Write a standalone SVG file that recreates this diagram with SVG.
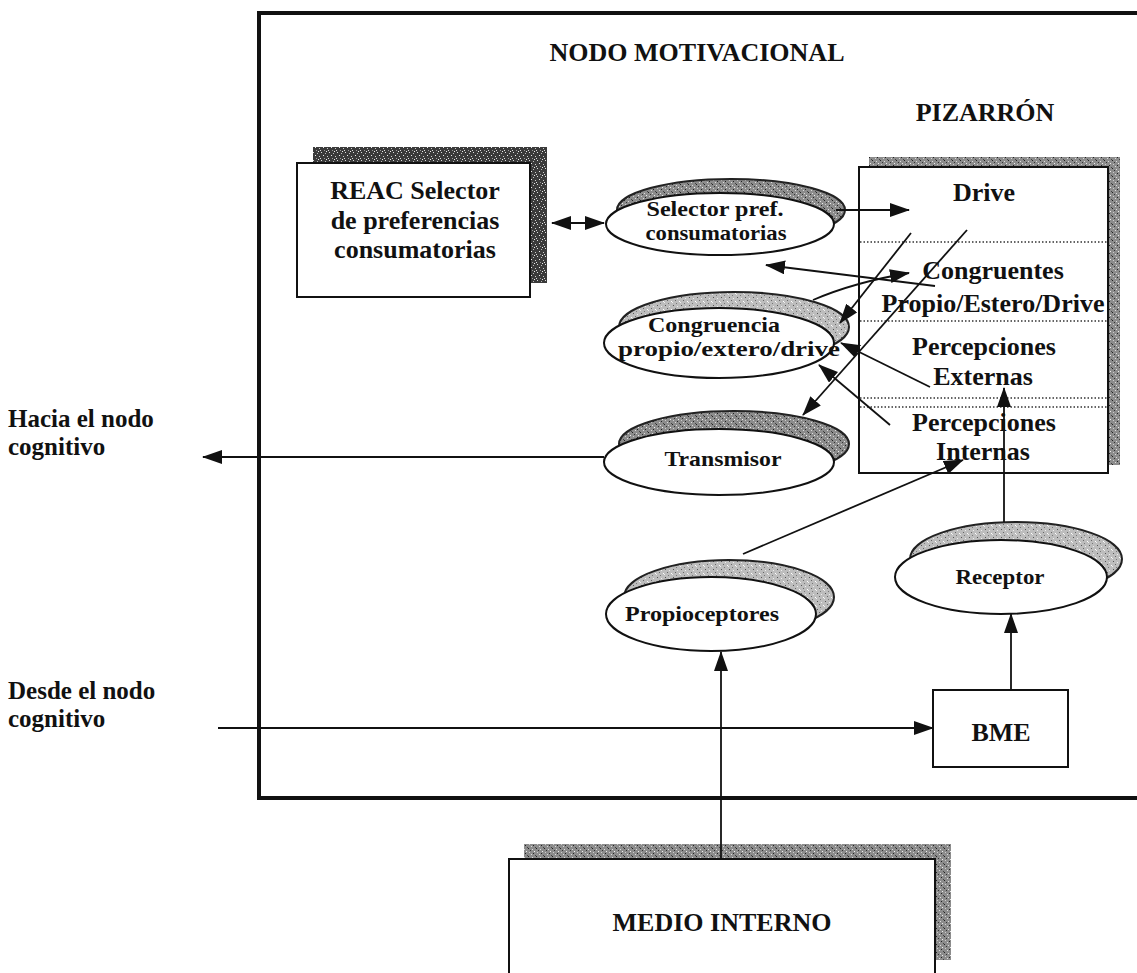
<svg xmlns="http://www.w3.org/2000/svg" width="1137" height="973" viewBox="0 0 1137 973">
  <style>
    text { font-family: "Liberation Serif", "Times New Roman", serif; font-weight: bold; fill: #111; }
    .big { font-size: 26px; }
    .side { font-size: 25px; }
    .oval { font-size: 22px; text-anchor: middle; }
    .mid { text-anchor: middle; }
    .box { fill: #fff; stroke: #111; stroke-width: 2; }
    .face { fill: #fff; stroke: #111; stroke-width: 2; }
    .back { stroke: #222; stroke-width: 2; }
    .arrow { fill: none; stroke: #111; stroke-width: 1.8; marker-end: url(#head); }
    .frame { fill: none; stroke: #111; stroke-width: 4; }
    .dots { stroke: #333; stroke-width: 1.5; stroke-dasharray: 1.5 2; }
  </style>
  <defs>
    <marker id="head" viewBox="0 0 20 14" refX="19" refY="7" markerWidth="20" markerHeight="14" markerUnits="userSpaceOnUse" orient="auto">
      <path d="M0,0 L20,7 L0,14 Z" fill="#111"/>
    </marker>
    <marker id="tail" viewBox="0 0 20 14" refX="1" refY="7" markerWidth="20" markerHeight="14" markerUnits="userSpaceOnUse" orient="auto">
      <path d="M20,0 L0,7 L20,14 Z" fill="#111"/>
    </marker>
    <!-- dithered shading used behind boxes and ovals -->
    <pattern id="grainDark" width="8" height="8" patternUnits="userSpaceOnUse">
      <rect width="8" height="8" fill="#3a3a3a"/>
      <rect x="1" y="0" width="1" height="1" fill="#ddd"/>
      <rect x="5" y="1" width="1" height="1" fill="#bbb"/>
      <rect x="3" y="3" width="1" height="1" fill="#eee"/>
      <rect x="7" y="4" width="1" height="1" fill="#ccc"/>
      <rect x="0" y="6" width="1" height="1" fill="#ddd"/>
      <rect x="4" y="6" width="1" height="1" fill="#999"/>
      <rect x="6" y="7" width="1" height="1" fill="#eee"/>
    </pattern>
    <pattern id="grainMid" width="8" height="8" patternUnits="userSpaceOnUse">
      <rect width="8" height="8" fill="#8c8c8c"/>
      <rect x="0" y="0" width="1" height="1" fill="#222"/>
      <rect x="4" y="1" width="1" height="1" fill="#ddd"/>
      <rect x="2" y="2" width="1" height="1" fill="#333"/>
      <rect x="6" y="3" width="1" height="1" fill="#eee"/>
      <rect x="1" y="4" width="1" height="1" fill="#ccc"/>
      <rect x="5" y="5" width="1" height="1" fill="#222"/>
      <rect x="3" y="6" width="1" height="1" fill="#ddd"/>
      <rect x="7" y="7" width="1" height="1" fill="#444"/>
    </pattern>
    <pattern id="grainLight" width="8" height="8" patternUnits="userSpaceOnUse">
      <rect width="8" height="8" fill="#bdbdbd"/>
      <rect x="1" y="1" width="1" height="1" fill="#555"/>
      <rect x="5" y="2" width="1" height="1" fill="#eee"/>
      <rect x="3" y="4" width="1" height="1" fill="#666"/>
      <rect x="7" y="5" width="1" height="1" fill="#fff"/>
      <rect x="0" y="6" width="1" height="1" fill="#eee"/>
      <rect x="4" y="7" width="1" height="1" fill="#777"/>
    </pattern>
  </defs>

  <rect width="1137" height="973" fill="#fff"/>

  <!-- motivational node frame (open to the right) -->
  <g id="nodo-motivacional">
    <path class="frame" d="M1140,13 L259,13 L259,798 L1140,798"/>
    <text class="big mid" x="697" y="61">NODO MOTIVACIONAL</text>
  </g>

  <!-- side labels -->
  <g id="hacia-nodo-cognitivo">
    <text class="side" x="8" y="427">Hacia el nodo</text>
    <text class="side" x="8" y="455">cognitivo</text>
  </g>
  <g id="desde-nodo-cognitivo">
    <text class="side" x="8" y="699">Desde el nodo</text>
    <text class="side" x="8" y="727">cognitivo</text>
  </g>

  <!-- REAC selector box -->
  <g id="reac">
    <rect x="313" y="147" width="234" height="136" fill="url(#grainDark)"/>
    <rect class="box" x="297" y="163" width="233" height="134"/>
    <text class="big mid" x="415" y="199">REAC Selector</text>
    <text class="big mid" x="415" y="229">de preferencias</text>
    <text class="big mid" x="415" y="258">consumatorias</text>
  </g>

  <!-- blackboard -->
  <g id="pizarron">
    <text class="big mid" x="985" y="121">PIZARRÓN</text>
    <rect x="869" y="157" width="251" height="308" fill="url(#grainMid)"/>
    <rect class="box" x="859" y="167" width="249" height="306"/>
    <line class="dots" x1="860" y1="242" x2="1107" y2="242"/>
    <line class="dots" x1="860" y1="321" x2="1107" y2="321"/>
    <line class="dots" x1="860" y1="398" x2="1107" y2="398"/>
    <line class="dots" x1="860" y1="407" x2="1107" y2="407"/>
    <text class="big mid" x="984" y="201">Drive</text>
    <text class="big mid" x="993" y="279">Congruentes</text>
    <text class="big mid" x="993" y="312">Propio/Estero/Drive</text>
    <text class="big mid" x="984" y="355">Percepciones</text>
    <text class="big mid" x="983" y="385">Externas</text>
    <text class="big mid" x="984" y="431">Percepciones</text>
    <text class="big mid" x="983" y="460">Internas</text>
  </g>

  <!-- ovals -->
  <g id="selector-pref">
    <ellipse class="back" cx="731" cy="210" rx="114" ry="31" fill="url(#grainMid)"/>
    <ellipse class="face" cx="720" cy="224" rx="114" ry="31"/>
    <text class="oval" x="715" y="216" textLength="137" lengthAdjust="spacingAndGlyphs">Selector pref.</text>
    <text class="oval" x="716" y="240" textLength="141" lengthAdjust="spacingAndGlyphs">consumatorias</text>
  </g>

  <g id="congruencia">
    <ellipse class="back" cx="734" cy="327" rx="115" ry="35" fill="url(#grainLight)"/>
    <ellipse class="face" cx="719" cy="343" rx="115" ry="35"/>
    <text class="oval" x="714" y="332" textLength="132" lengthAdjust="spacingAndGlyphs">Congruencia</text>
    <text class="oval" x="729" y="356" textLength="222" lengthAdjust="spacingAndGlyphs">propio/extero/drive</text>
  </g>

  <g id="transmisor">
    <ellipse class="back" cx="734" cy="444" rx="115" ry="33" fill="url(#grainMid)"/>
    <ellipse class="face" cx="719" cy="462" rx="115" ry="33"/>
    <text class="oval" x="723" y="466" textLength="117" lengthAdjust="spacingAndGlyphs">Transmisor</text>
  </g>

  <g id="propioceptores">
    <ellipse class="back" cx="729" cy="597" rx="105" ry="37" fill="url(#grainLight)"/>
    <ellipse class="face" cx="711" cy="614" rx="105" ry="37"/>
    <text class="oval" x="702" y="621" textLength="154" lengthAdjust="spacingAndGlyphs">Propioceptores</text>
  </g>

  <g id="receptor">
    <ellipse class="back" cx="1016" cy="559" rx="106" ry="37" fill="url(#grainLight)"/>
    <ellipse class="face" cx="1001" cy="577" rx="106" ry="37"/>
    <text class="oval" x="1000" y="584" textLength="89" lengthAdjust="spacingAndGlyphs">Receptor</text>
  </g>

  <g id="bme">
    <rect class="box" x="933" y="690" width="135" height="77"/>
    <text class="big mid" x="1001" y="741">BME</text>
  </g>

  <g id="medio-interno">
    <rect x="524" y="844" width="427" height="116" fill="url(#grainMid)"/>
    <rect class="box" x="509" y="859" width="426" height="130"/>
    <text class="big mid" x="722" y="931">MEDIO INTERNO</text>
  </g>

  <!-- connectors -->
  <g id="connectors">
    <line class="arrow" x1="552" y1="223" x2="604" y2="223" marker-start="url(#tail)"/>
    <line class="arrow" x1="836" y1="210" x2="909" y2="210"/>
    <line class="arrow" x1="935" y1="286" x2="766" y2="265"/>
    <path class="arrow" d="M813,300 Q855,282 909,273"/>
    <line class="arrow" x1="911" y1="233" x2="840" y2="323"/>
    <line class="arrow" x1="967" y1="230" x2="803" y2="415"/>
    <line class="arrow" x1="930" y1="387" x2="841" y2="343"/>
    <line class="arrow" x1="890" y1="425" x2="819" y2="365"/>
    <line class="arrow" x1="604" y1="457" x2="203" y2="457"/>
    <line class="arrow" x1="743" y1="554" x2="963" y2="460"/>
    <line class="arrow" x1="1004" y1="522" x2="1004" y2="388"/>
    <line class="arrow" x1="1011" y1="690" x2="1011" y2="614"/>
    <line class="arrow" x1="218" y1="728" x2="933" y2="728"/>
    <line class="arrow" x1="721" y1="859" x2="721" y2="652"/>
  </g>
</svg>
